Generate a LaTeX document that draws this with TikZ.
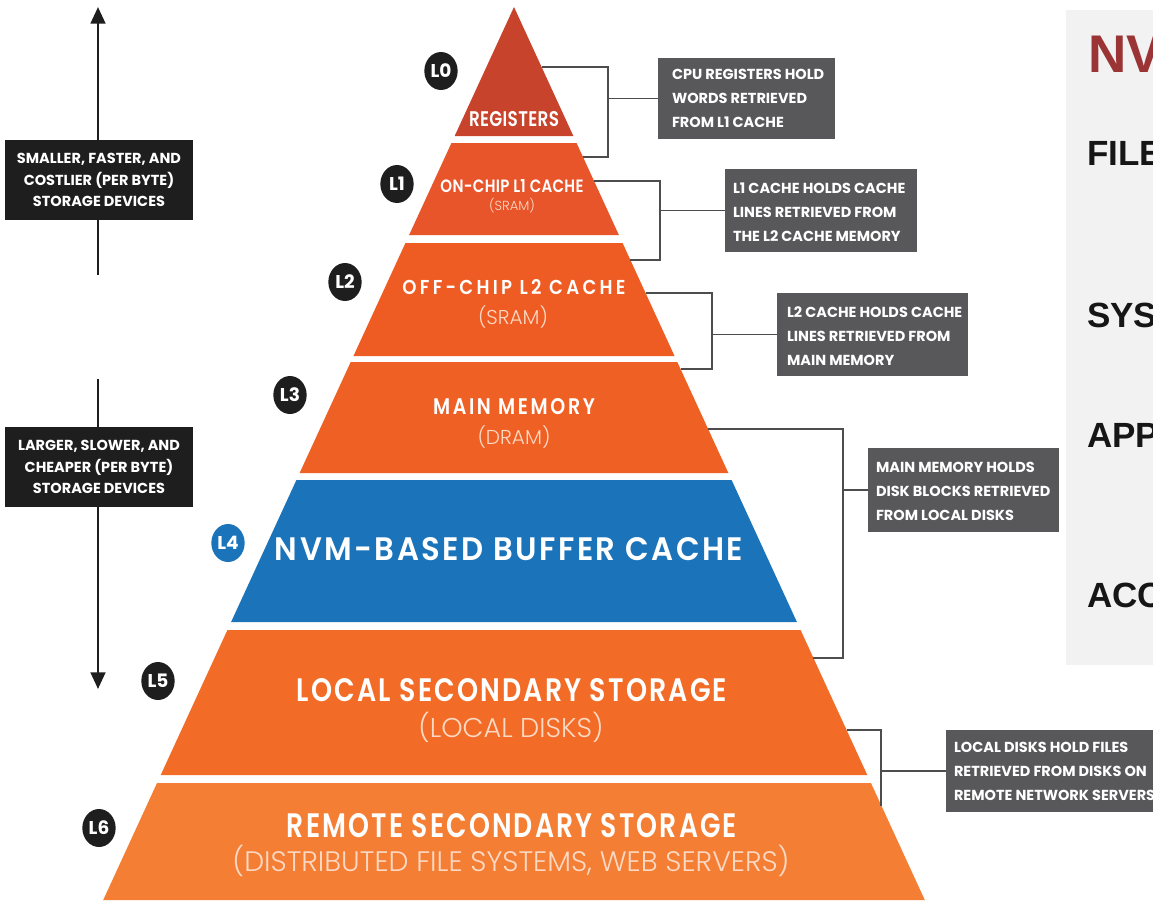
\documentclass[tikz,border=0pt]{standalone}
\usepackage{fontspec}
\usepackage{graphicx}
\setmainfont{Poppins}
\newfontfamily\pop{Poppins}
\IfFontExistsTF{Poppins SemiBold}{\newfontfamily\popb{Poppins SemiBold}}{\newfontfamily\popb{Poppins Bold}}
\IfFontExistsTF{Poppins Light}{\newfontfamily\popl{Poppins Light}}{\newfontfamily\popl{Poppins}}
\newfontfamily\arl{Liberation Sans}
\usetikzlibrary{arrows.meta,shapes.geometric}
\definecolor{c0}{HTML}{C8432B}
\definecolor{c1}{HTML}{E8552A}
\definecolor{c2}{HTML}{EE5B23}
\definecolor{c3}{HTML}{EF6024}
\definecolor{c4}{HTML}{1B74BA}
\definecolor{c5}{HTML}{F26C27}
\definecolor{c6}{HTML}{F47E34}
\definecolor{subc}{HTML}{FCD9C4}
\definecolor{boxg}{HTML}{58585A}
\definecolor{boxk}{HTML}{1E1E1E}
\definecolor{lineg}{HTML}{4D4D4D}
\definecolor{panel}{HTML}{F2F2F2}
\definecolor{nvred}{HTML}{9B3434}
\definecolor{panelk}{HTML}{161616}
\newdimen\U \U=0.75pt
\newcommand\pxf[2]{\fontsize{\fpeval{#1*0.75}pt}{\fpeval{#2*0.75}pt}\selectfont}
% bold caps label fitted to width W and cap height H (px)
\newcommand\capl[4]{\resizebox{#1\U}{#2\U}{\popb\addfontfeatures{LetterSpace=#3}#4}}
% light label fitted to width W (px)
\newcommand\subl[2]{\resizebox{#1\U}{!}{\popl #2}}
\newcommand\pband[3]{\fill[#3] ({514-0.46*(#1-7)},#1) -- ({514+0.46*(#1-7)},#1) -- ({514+0.46*(#2-7)},#2) -- ({514-0.46*(#2-7)},#2) -- cycle;}
\newcommand\redge[2]{\coordinate (#1) at ({514+0.46*(#2-7)},#2);}
\tikzset{
  lbl/.style={inner sep=0pt, text=white},
  sublbl/.style={inner sep=0pt, text=subc},
  lvl/.style={ellipse, inner sep=0pt, minimum width=25pt, minimum height=28.5pt, fill=boxk, text=white, font=\pop\bfseries\pxf{18.5}{18.5}},
  rbox/.style={rectangle, fill=boxg, inner sep=0pt},
  rtext/.style={inner sep=0pt, anchor=west, align=left, text=white, font=\pop\bfseries\pxf{14.5}{24}},
  kbox/.style={rectangle, fill=boxk, inner sep=0pt, minimum width=141pt, minimum height=60pt, align=center, text=white, font=\pop\bfseries\pxf{14.5}{21.5}},
  brk/.style={draw=lineg, line width=1.1pt},
  vline/.style={draw=boxk, line width=1.9pt, -{Triangle[width=11pt,length=12.5pt]}},
  ptext/.style={inner sep=0pt, anchor=base west, font=\arl\bfseries\pxf{35}{35}, text=panelk}
}
\begin{document}
\begin{tikzpicture}[x=0.75pt,y=-0.75pt]
\useasboundingbox (0,0) rectangle (1153,904);
\clip (0,0) rectangle (1153,904);
\fill[white] (0,0) rectangle (1153,904);

% right panel
\fill[panel] (1066,10) rectangle (1153,665);
\node[ptext, font=\arl\bfseries\pxf{53}{53}, text=nvred] (nv) at (1088,72) {NV};
\node[ptext] (p1) at (1087,165) {FILE};
\node[ptext] (p2) at (1087,327) {SYS};
\node[ptext] (p3) at (1087,447) {APP};
\node[ptext] (p4) at (1087,607) {ACC};

% pyramid
\pband{7}{136}{c0}
\pband{143}{235}{c1}
\pband{243}{356}{c2}
\pband{362}{473}{c3}
\pband{480}{622}{c4}
\pband{630}{775}{c5}
\pband{783}{900}{c6}

\node[lbl] (t0) at (514,119) {\capl{90}{15}{2}{REGISTERS}};
\node[lbl] (t1) at (512,186) {\capl{143}{13}{2}{ON-CHIP L1 CACHE}};
\node[sublbl] (s1) at (512,206) {\subl{46}{(SRAM)}};
\node[lbl] (t2) at (514,287) {\capl{223}{15}{18}{OFF-CHIP L2 CACHE}};
\node[sublbl] (s2) at (513,317) {\subl{70}{(SRAM)}};
\node[lbl] (t3) at (514,407) {\capl{162}{16}{14}{MAIN MEMORY}};
\node[sublbl] (s3) at (514,437) {\subl{73}{(DRAM)}};
\node[lbl] (t4) at (509,549) {\capl{468}{23}{8}{NVM-BASED BUFFER CACHE}};
\node[lbl] (t5) at (512,690) {\capl{430}{23}{8}{LOCAL SECONDARY STORAGE}};
\node[sublbl] (s5) at (511,727) {\subl{185}{(LOCAL DISKS)}};
\node[lbl] (t6) at (512,826) {\capl{450}{24}{8}{REMOTE SECONDARY STORAGE}};
\node[sublbl] (s6) at (511,861) {\subl{557}{(DISTRIBUTED FILE SYSTEMS, WEB SERVERS)}};

% level markers
\node[lvl] (L0) at (441,71) {L0};
\node[lvl] (L1) at (397,184) {L1};
\node[lvl] (L2) at (345,282) {L2};
\node[lvl] (L3) at (290,395) {L3};
\node[lvl, fill=c4] (L4) at (228,543) {L4};
\node[lvl] (L5) at (158,681) {L5};
\node[lvl] (L6) at (99,828) {L6};

% left arrows and boxes
\coordinate (upbot) at (98,275);
\coordinate (uptop) at (98,7);
\draw[vline] (upbot) -- (uptop);
\coordinate (dntop) at (98,379);
\coordinate (dnbot) at (98,689);
\draw[vline] (dntop) -- (dnbot);
\node[kbox] (kb1) at (99,180) {SMALLER, FASTER, AND\\COSTLIER (PER BYTE)\\STORAGE DEVICES};
\node[kbox] (kb2) at (99,467) {LARGER, SLOWER, AND\\CHEAPER (PER BYTE)\\STORAGE DEVICES};

% right boxes
\node[rbox, minimum width=132.75pt, minimum height=60.75pt] (b1) at (746.5,98.5) {};
\node[rtext] (b1t) at ([xshift=10.5pt]b1.west) {CPU REGISTERS HOLD\\WORDS RETRIEVED\\FROM L1 CACHE};
\node[rbox, minimum width=144pt, minimum height=62.25pt] (b2) at (821,210.5) {};
\node[rtext] (b2t) at ([xshift=6pt,yshift=-1pt]b2.west) {L1 CACHE HOLDS CACHE\\LINES RETRIEVED FROM\\THE L2 CACHE MEMORY};
\node[rbox, minimum width=143.25pt, minimum height=62.25pt] (b3) at (872.5,334.5) {};
\node[rtext] (b3t) at ([xshift=7.5pt,yshift=-1pt]b3.west) {L2 CACHE HOLDS CACHE\\LINES RETRIEVED FROM\\MAIN MEMORY};
\node[rbox, minimum width=143.25pt, minimum height=63pt] (b4) at (963.5,490) {};
\node[rtext] (b4t) at ([xshift=6pt,yshift=-1pt]b4.west) {MAIN MEMORY HOLDS\\DISK BLOCKS RETRIEVED\\FROM LOCAL DISKS};
\node[rbox, minimum width=168pt, minimum height=61.5pt] (b5) at (1058,771) {};
\node[rtext] (b5t) at ([xshift=6pt,yshift=-0.5pt]b5.west) {LOCAL DISKS HOLD FILES\\RETRIEVED FROM DISKS ON\\REMOTE NETWORK SERVERS};

% brackets
\redge{e1t}{67} \redge{e1b}{157}
\coordinate (v1) at (608,98.5);
\draw[brk] (e1t) -| (v1) |- (e1b);
\draw[brk] (v1) -- (v1 -| b1.west);

\redge{e2t}{181} \redge{e2b}{260}
\coordinate (v2) at (660,210.5);
\draw[brk] (e2t) -| (v2) |- (e2b);
\draw[brk] (v2) -- (v2 -| b2.west);

\redge{e3t}{293} \redge{e3b}{369}
\coordinate (v3) at (712,334.5);
\draw[brk] (e3t) -| (v3) |- (e3b);
\draw[brk] (v3) -- (v3 -| b3.west);

\redge{e4t}{429} \redge{e4b}{658}
\coordinate (v4) at (843,490);
\draw[brk] (e4t) -| (v4) |- (e4b);
\draw[brk] (v4) -- (v4 -| b4.west);

\redge{e5t}{730} \redge{e5b}{805}
\coordinate (v5) at (881,771);
\draw[brk] (e5t) -| (v5) |- (e5b);
\draw[brk] (v5) -- (v5 -| b5.west);
\end{tikzpicture}
\end{document}
